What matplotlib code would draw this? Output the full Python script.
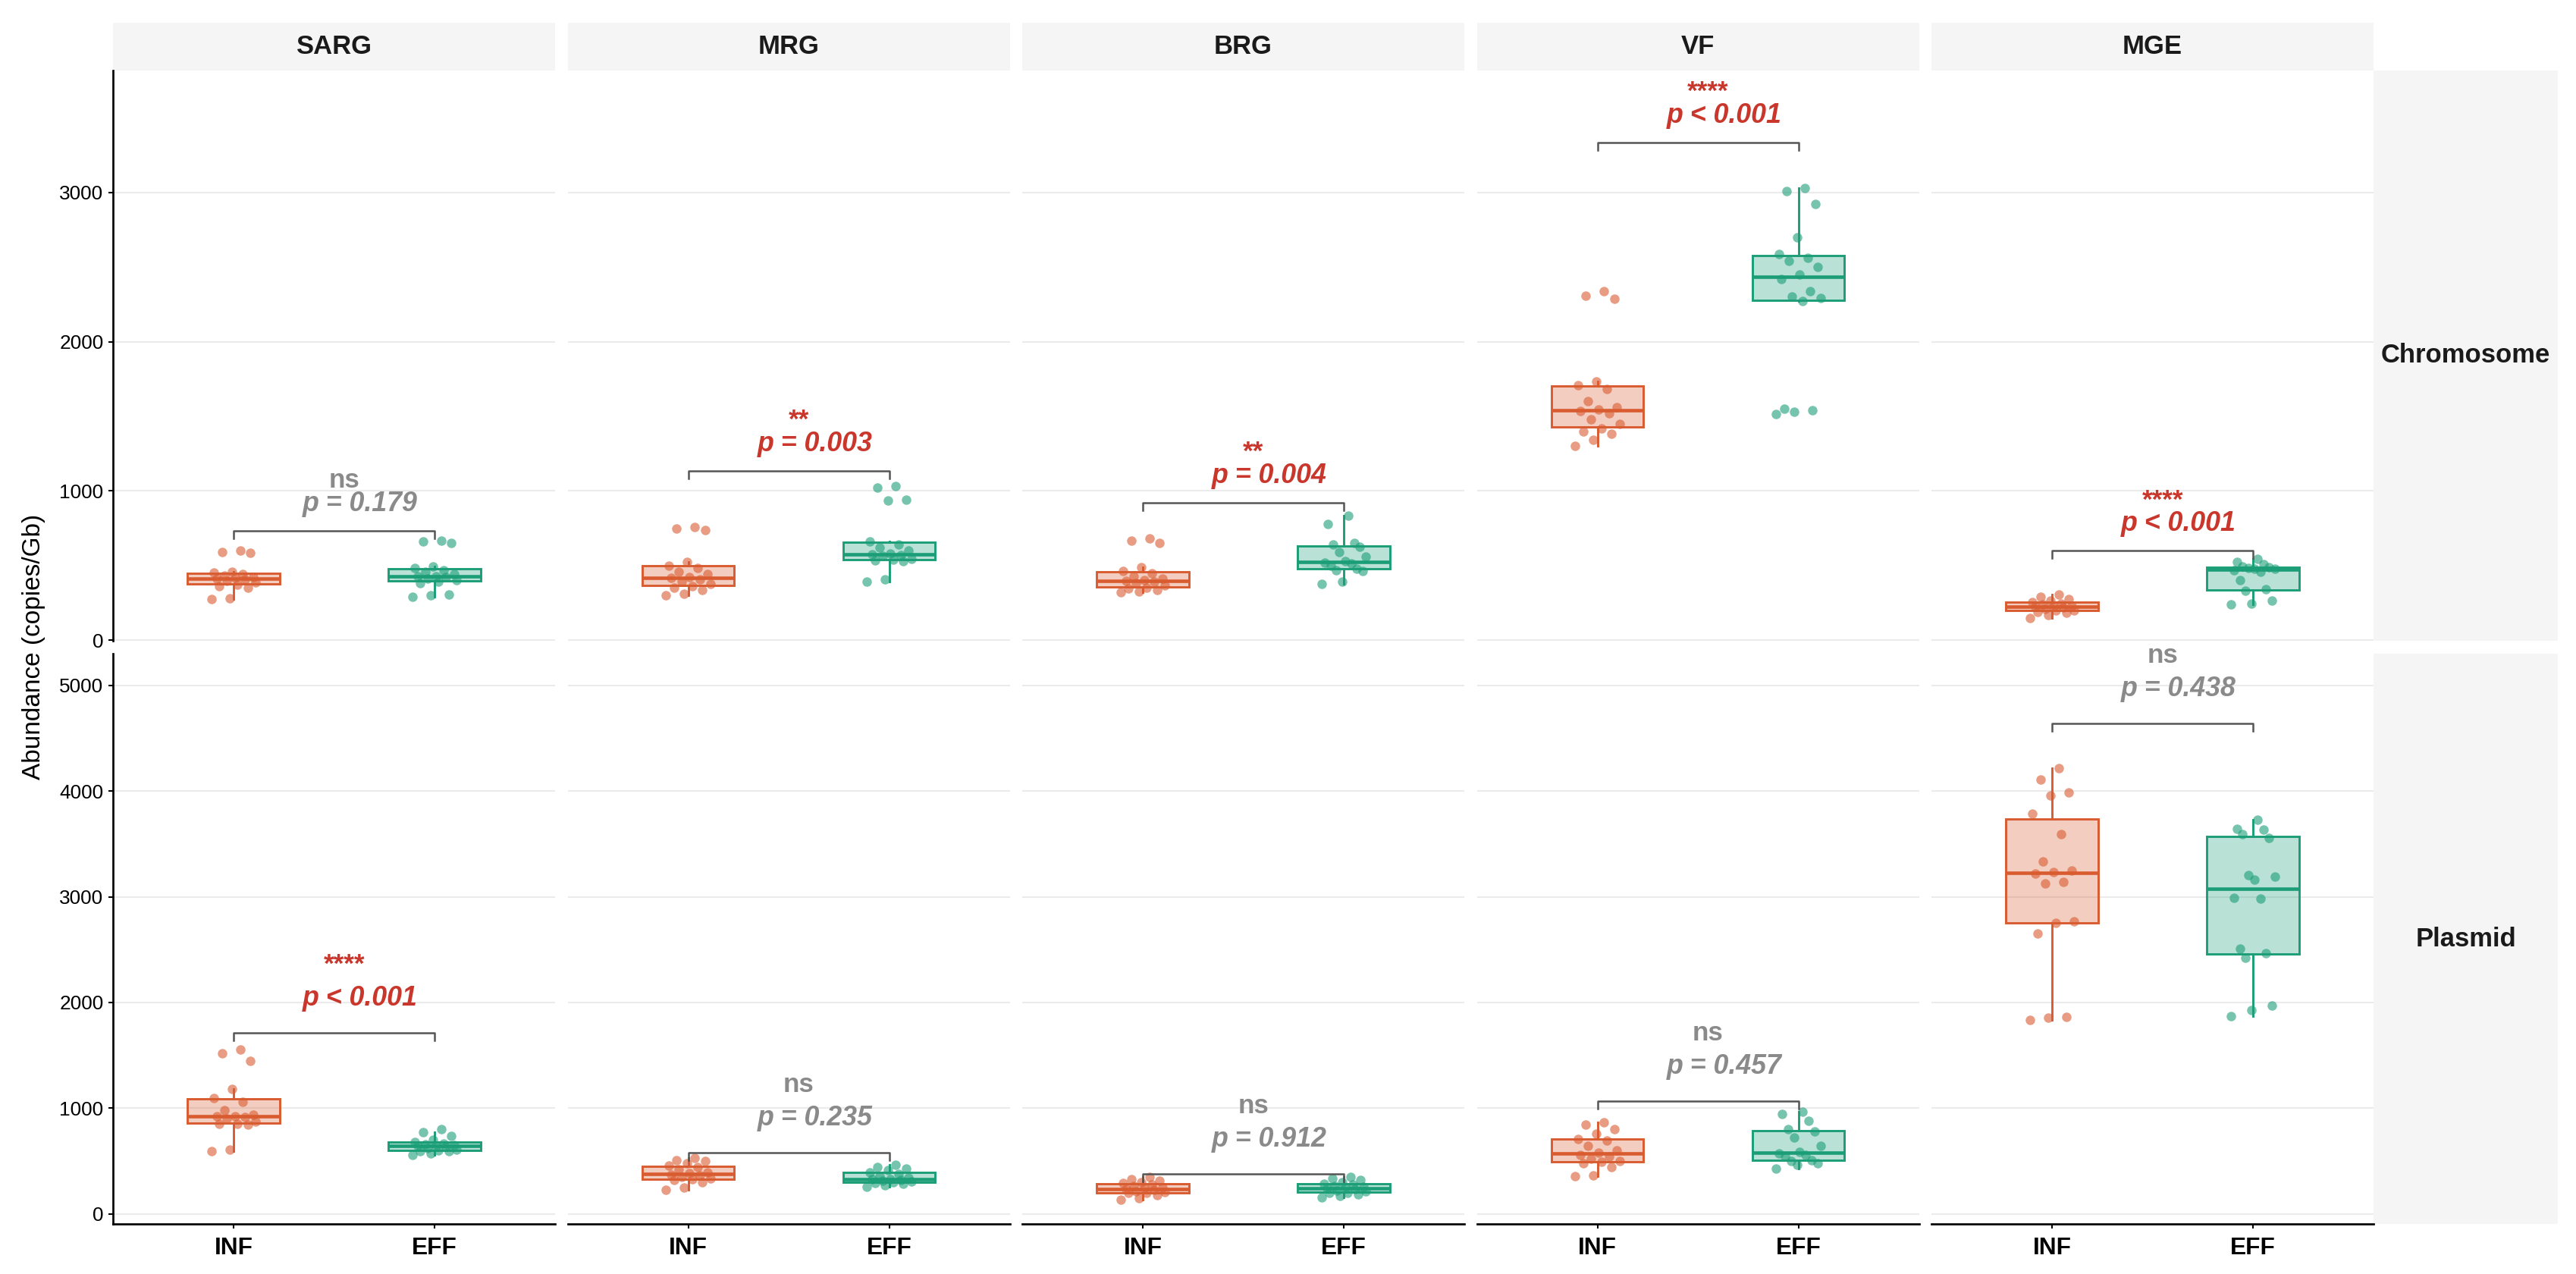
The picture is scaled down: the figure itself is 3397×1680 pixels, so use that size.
import numpy as np
import matplotlib.pyplot as plt
from matplotlib.colors import to_rgba

plt.rcParams['font.family'] = ['Liberation Sans', 'DejaVu Sans']

genes = ['SARG', 'MRG', 'BRG', 'VF', 'MGE']
locations = ['Chromosome', 'Plasmid']
sites = ['INF', 'EFF']

# abundance (copies/Gb), chromosome-borne
chr_sarg_inf = [275, 282, 350, 362, 370, 385, 395, 405, 410, 415, 420, 430, 440, 452, 460, 585, 590, 598]
chr_sarg_eff = [290, 298, 305, 380, 392, 400, 410, 420, 425, 428, 440, 455, 470, 482, 495, 650, 660, 665]
chr_mrg_inf = [300, 310, 334, 350, 360, 375, 390, 405, 415, 420, 440, 460, 485, 500, 524, 735, 745, 755]
chr_mrg_eff = [390, 405, 530, 535, 538, 545, 565, 570, 572, 578, 600, 620, 640, 660, 935, 938, 1020, 1030]
chr_brg_inf = [320, 325, 335, 345, 350, 365, 380, 390, 395, 400, 410, 425, 445, 465, 487, 650, 665, 680]
chr_brg_eff = [376, 390, 465, 470, 480, 500, 515, 520, 528, 560, 590, 625, 640, 650, 780, 836]
chr_vf_inf = [1300, 1340, 1380, 1400, 1420, 1450, 1480, 1520, 1535, 1545, 1560, 1600, 1680, 1710, 1735, 2285, 2310, 2340]
chr_vf_eff = [1515, 1530, 1540, 1550, 2270, 2290, 2300, 2340, 2420, 2450, 2500, 2540, 2560, 2585, 2700, 2925, 3010, 3030]
chr_mge_inf = [150, 170, 185, 190, 196, 200, 210, 218, 222, 225, 230, 240, 245, 255, 262, 275, 290, 305]
chr_mge_eff = [237, 245, 265, 330, 340, 400, 460, 470, 478, 480, 485, 488, 495, 510, 525, 543]

# abundance (copies/Gb), plasmid-borne
pla_sarg_inf = [596, 610, 845, 848, 852, 870, 900, 915, 920, 926, 940, 980, 1060, 1095, 1181, 1450, 1520, 1555]
pla_sarg_eff = [560, 575, 590, 595, 598, 605, 620, 635, 640, 645, 650, 660, 668, 680, 700, 740, 775, 800]
pla_mrg_inf = [230, 245, 300, 320, 325, 335, 350, 365, 372, 382, 395, 420, 440, 455, 480, 500, 510, 525]
pla_mrg_eff = [255, 270, 285, 295, 300, 305, 310, 320, 325, 330, 340, 355, 375, 395, 410, 430, 445, 462]
pla_brg_inf = [135, 150, 180, 195, 200, 205, 215, 225, 235, 240, 250, 260, 280, 290, 300, 315, 330, 346]
pla_brg_eff = [154, 170, 185, 195, 200, 210, 222, 232, 240, 245, 255, 265, 278, 285, 300, 320, 335, 346]
pla_vf_inf = [355, 365, 440, 480, 490, 500, 520, 545, 560, 578, 600, 640, 690, 710, 760, 800, 846, 865]
pla_vf_eff = [431, 465, 480, 500, 510, 540, 560, 570, 585, 640, 720, 780, 800, 880, 945, 969]
pla_mge_inf = [1838, 1858, 1865, 2654, 2750, 2769, 3127, 3138, 3219, 3231, 3250, 3335, 3596, 3788, 3962, 3985, 4108, 4219]
pla_mge_eff = [1869, 1931, 1969, 2423, 2469, 2508, 2981, 2988, 3162, 3192, 3204, 3560, 3596, 3635, 3642, 3731]

chr_sig = ['ns', '**', '**', '****', '****']
chr_p = ['p = 0.179', 'p = 0.003', 'p = 0.004', 'p < 0.001', 'p < 0.001']
pla_sig = ['****', 'ns', 'ns', 'ns', 'ns']
pla_p = ['p < 0.001', 'p = 0.235', 'p = 0.912', 'p = 0.457', 'p = 0.438']

chr_ticks = [0, 1000, 2000, 3000]
pla_ticks = [0, 1000, 2000, 3000, 4000, 5000]

data = {
    'Chromosome': [(chr_sarg_inf, chr_sarg_eff), (chr_mrg_inf, chr_mrg_eff), (chr_brg_inf, chr_brg_eff),
                   (chr_vf_inf, chr_vf_eff), (chr_mge_inf, chr_mge_eff)],
    'Plasmid': [(pla_sarg_inf, pla_sarg_eff), (pla_mrg_inf, pla_mrg_eff), (pla_brg_inf, pla_brg_eff),
                (pla_vf_inf, pla_vf_eff), (pla_mge_inf, pla_mge_eff)],
}
labels = {'Chromosome': (chr_sig, chr_p), 'Plasmid': (pla_sig, pla_p)}
ticks = {'Chromosome': chr_ticks, 'Plasmid': pla_ticks}
ylims = {'Chromosome': (-5, 3817), 'Plasmid': (-96, 5301)}

col_inf = '#D95B30'
col_eff = '#1B9E77'
col_sig = '#C9372C'
col_ns = '#8A8A8A'
strip_bg = '#F5F5F5'

# layout in pixels
W, H = 3397, 1680
px2pt = 72 / 300
left0, step, pw = 149, 599.5, 583
row_top = [93, 862]
row_bot = [845, 1614]
strip_y = (30, 93)
rstrip_x = (3130, 3373)
# label baselines above the bracket (px): significance line, p-value line
lab_off = [(57, 26), (80, 36)]


def rect(x0, y0, x1, y1):
    return [x0 / W, 1 - y1 / H, (x1 - x0) / W, (y1 - y0) / H]


def jitter(n):
    # spread points evenly inside +-0.11, shuffled with a fixed stride
    offs = np.linspace(-0.11, 0.11, n)
    return offs[(np.arange(n) * 7) % n]


def strip(box, text):
    sax = fig.add_axes(box)
    sax.set_facecolor(strip_bg)
    sax.set_xticks([]); sax.set_yticks([])
    for s in sax.spines.values():
        s.set_visible(False)
    sax.text(0.5, 0.5, text, ha='center', va='center', fontsize=8.3, fontweight='bold', color='#1A1A1A')


fig = plt.figure(figsize=(W / 300, H / 300), dpi=300)

for c, gene in enumerate(genes):
    x0 = left0 + c * step
    strip(rect(x0, strip_y[0], x0 + pw, strip_y[1]), gene)

for r, loc in enumerate(locations):
    strip(rect(rstrip_x[0], row_top[r], rstrip_x[1], row_bot[r]), loc)

    sig, ptxt = labels[loc]
    for c, gene in enumerate(genes):
        x0 = left0 + c * step
        ax = fig.add_axes(rect(x0, row_top[r], x0 + pw, row_bot[r]))
        ax.set_xlim(0.4, 2.6)
        ax.set_ylim(*ylims[loc])
        ax.set_yticks(ticks[loc])
        ax.yaxis.grid(True, color='#EBEBEB', lw=0.5)
        ax.set_axisbelow(True)

        inf, eff = data[loc][c]
        for k, (vals, col) in enumerate([(inf, col_inf), (eff, col_eff)]):
            pos = k + 1
            ax.boxplot([vals], positions=[pos], widths=0.46, patch_artist=True,
                       showfliers=False, showcaps=False, whis=1.5,
                       boxprops=dict(facecolor=to_rgba(col, 0.3), edgecolor=col, linewidth=0.7),
                       medianprops=dict(color=col, linewidth=1.1),
                       whiskerprops=dict(color=col, linewidth=0.7))
            ax.scatter(pos + jitter(len(vals)), vals, s=9, color=col, alpha=0.6, lw=0, zorder=3)

        # significance bracket
        ytop = 1.1 * max(max(inf), max(eff))
        lo, hi = ylims[loc]
        d = 10 / (row_bot[r] - row_top[r]) * (hi - lo)
        ax.plot([1, 1, 2, 2], [ytop - d, ytop, ytop, ytop - d], color='#555555', lw=0.6, zorder=4)
        tcol = col_ns if sig[c] == 'ns' else col_sig
        ax.annotate(sig[c], xy=(1.55, ytop), xytext=(0, lab_off[r][0] * px2pt), textcoords='offset points',
                    ha='center', va='baseline', fontsize=8.4, fontweight='bold', color=tcol)
        ax.annotate(ptxt[c], xy=(1.63, ytop), xytext=(0, lab_off[r][1] * px2pt), textcoords='offset points',
                    ha='center', va='baseline', fontsize=8.6, fontweight='bold', fontstyle='italic',
                    color=tcol)

        for s in ['top', 'right']:
            ax.spines[s].set_visible(False)
        ax.spines['left'].set_visible(c == 0)
        ax.spines['bottom'].set_visible(r == 1)
        ax.spines['left'].set_linewidth(0.65)
        ax.spines['bottom'].set_linewidth(0.65)

        ax.tick_params(axis='y', length=1.5, width=0.5, pad=1.5, labelsize=6.3, colors='black')
        if c != 0:
            ax.tick_params(axis='y', left=False, labelleft=False)
        ax.set_xticks([1, 2])
        if r == 1:
            ax.set_xticklabels(sites, fontsize=7.6, fontweight='bold')
            ax.tick_params(axis='x', length=1.5, width=0.5, pad=2.5)
        else:
            ax.tick_params(axis='x', bottom=False, labelbottom=False)

fig.text(45 / W, 1 - 853 / H, 'Abundance (copies/Gb)', rotation=90, ha='center', va='center', fontsize=8)

fig.savefig('out.png', dpi=300)
